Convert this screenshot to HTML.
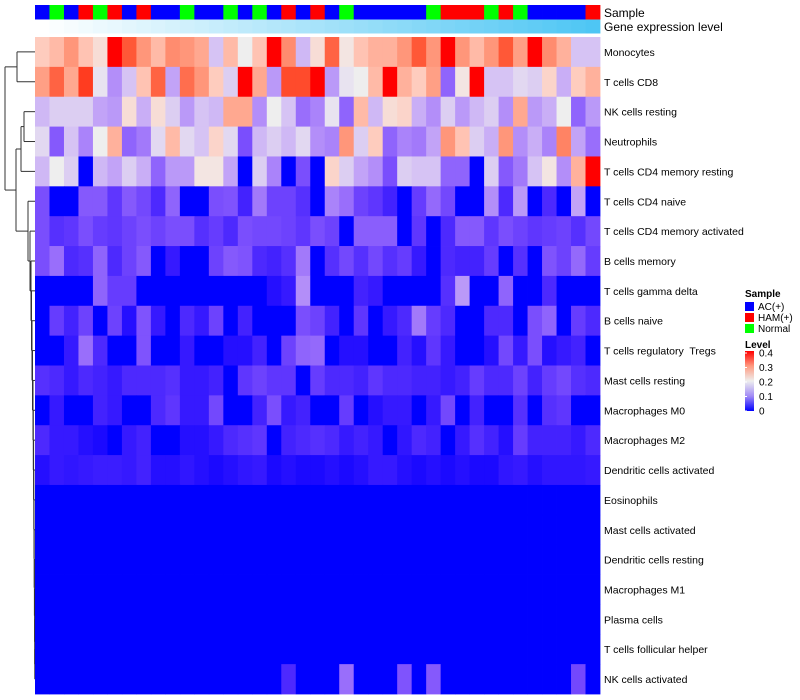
<!DOCTYPE html>
<html><head><meta charset="utf-8"><style>
body{margin:0;background:#fff;}
svg{display:block;font-family:"Liberation Sans",sans-serif;}
#rowlabels text{white-space:pre;}
</style></head><body>
<svg id="chart" width="800" height="700" xmlns="http://www.w3.org/2000/svg">
<g id="dendro" stroke="#333" stroke-width="1" fill="none"></g>
<g id="annot"></g>
<g id="cells"></g>
<g id="rowlabels" font-size="10.5" fill="#000" xml:space="preserve"></g>
<text x="604" y="17" font-size="12">Sample</text>
<text x="604" y="31" font-size="12">Gene expression level</text>
<g id="legend" font-size="10">
<text x="745" y="297" font-weight="bold">Sample</text>
<g><rect x="745" y="302" width="9" height="9" fill="#0000ff"/><text x="758" y="310">AC(+)</text></g>
<g><rect x="745" y="313" width="9" height="9" fill="#ff0000"/><text x="758" y="321">HAM(+)</text></g>
<g><rect x="745" y="324" width="9" height="9" fill="#00ff00"/><text x="758" y="332">Normal</text></g>
<text x="745" y="348" font-weight="bold">Level</text>
<defs><linearGradient id="lg" x1="0" y1="1" x2="0" y2="0">
<stop offset="0" stop-color="#0000ff"/><stop offset="0.25" stop-color="#a38cf6"/><stop offset="0.5" stop-color="#eeeeee"/><stop offset="0.75" stop-color="#ff9a80"/><stop offset="1" stop-color="#ff0000"/></linearGradient></defs>
<rect x="745" y="351" width="9" height="60" fill="url(#lg)"/>
<g id="lticks"></g>
</g>
</svg>
<script>
const rowNames=["Monocytes","T cells CD8","NK cells resting","Neutrophils","T cells CD4 memory resting","T cells CD4 naive","T cells CD4 memory activated","B cells memory","T cells gamma delta","B cells naive","T cells regulatory  Tregs","Mast cells resting","Macrophages M0","Macrophages M2","Dendritic cells activated","Eosinophils","Mast cells activated","Dendritic cells resting","Macrophages M1","Plasma cells","T cells follicular helper","NK cells activated"];
const sampleGroups=["A","N","A","H","N","H","A","H","A","A","N","A","A","N","A","N","A","H","A","H","A","N","A","A","A","A","A","N","H","H","H","N","H","N","A","A","A","A","H"];
const geneLevel=[0,1,2,3,4,5,6,7,8,9,10,11,12,13,14,15,16,17,18,19,20,21,22,23,24,25,26,27,28,29,30,31,32,33,34,35,36,37,38];
const legendTicks=[0,0.1,0.2,0.3,0.4];
const r0=[0.24,0.26,0.3,0.25,0.22,0.4,0.36,0.3,0.26,0.31,0.3,0.28,0.16,0.26,0.2,0.25,0.4,0.31,0.15,0.22,0.35,0.21,0.25,0.27,0.27,0.3,0.36,0.3,0.4,0.3,0.26,0.3,0.36,0.29,0.4,0.31,0.27,0.16,0.16];
const r1=[0.29,0.35,0.28,0.38,0.19,0.11,0.16,0.25,0.35,0.13,0.34,0.3,0.24,0.17,0.4,0.28,0.12,0.37,0.37,0.4,0.12,0.19,0.2,0.26,0.4,0.27,0.24,0.29,0.07,0.21,0.4,0.16,0.16,0.18,0.17,0.23,0.14,0.24,0.27];
const r2=[0.15,0.17,0.17,0.17,0.13,0.12,0.22,0.14,0.22,0.17,0.12,0.16,0.15,0.28,0.28,0.11,0.2,0.16,0.08,0.1,0.19,0.07,0.26,0.15,0.22,0.23,0.14,0.11,0.17,0.12,0.15,0.17,0.11,0.28,0.12,0.14,0.2,0.07,0.12];
const r3=[0.18,0.06,0.16,0.1,0.2,0.27,0.07,0.09,0.18,0.26,0.18,0.16,0.23,0.18,0.05,0.15,0.17,0.15,0.18,0.11,0.1,0.3,0.17,0.24,0.07,0.1,0.09,0.13,0.3,0.25,0.17,0.14,0.3,0.11,0.14,0.1,0.32,0.13,0.08];
const r4=[0.15,0.2,0.17,0,0.15,0.13,0.17,0.14,0.07,0.12,0.12,0.21,0.21,0.13,0,0.17,0.1,0,0.05,0,0.23,0.17,0.13,0.11,0.05,0.17,0.16,0.16,0.07,0.07,0,0.17,0.06,0.09,0.16,0.21,0.11,0.27,0.4];
const r5=[0.05,0,0,0.06,0.06,0.03,0.06,0.045,0.02,0.07,0,0,0.05,0.055,0.015,0.09,0.04,0.04,0.025,0,0.1,0.08,0.04,0.03,0.015,0,0.035,0.075,0.045,0,0,0.11,0.02,0.12,0,0.02,0,0.13,0];
const r6=[0.05,0.025,0.03,0.05,0.035,0.03,0.04,0.05,0.04,0.05,0.05,0.025,0.035,0.02,0.05,0.045,0.045,0.04,0.03,0.05,0.04,0,0.065,0.065,0.065,0,0.03,0,0.02,0.06,0.06,0.03,0.05,0.04,0.03,0.035,0.04,0.025,0.045];
const r7=[0.05,0.08,0.02,0.025,0.07,0.02,0.04,0.06,0,0.01,0,0,0.04,0.06,0.055,0.02,0.015,0.025,0.09,0,0.025,0.045,0.025,0.045,0.025,0.035,0.01,0,0.02,0.015,0.015,0.035,0,0.025,0,0.055,0.04,0.075,0.035];
const r8=[0,0,0,0,0.07,0.035,0.035,0,0,0,0,0,0,0,0,0,0.005,0.01,0.11,0,0,0,0.015,0.01,0,0,0,0,0.025,0.12,0,0,0.07,0,0,0.02,0,0,0];
const r9=[0,0.035,0.015,0.04,0,0.04,0.005,0.055,0.01,0,0.02,0.01,0.04,0,0.015,0,0,0,0.05,0.04,0.015,0,0.03,0,0.01,0.02,0.09,0.035,0.02,0,0,0.02,0.02,0,0.05,0.07,0,0.035,0.02];
const r10=[0,0,0.01,0.08,0.02,0,0,0.055,0,0,0.01,0,0,0.005,0.005,0.015,0,0.04,0.07,0.075,0,0.005,0.005,0,0,0.015,0.005,0.03,0.01,0,0,0.005,0.045,0.01,0.05,0.005,0.01,0.015,0];
const r11=[0.025,0.02,0.01,0.02,0.015,0.01,0.02,0.02,0.02,0.025,0.01,0.01,0.015,0,0.03,0.04,0.03,0.03,0,0.035,0.02,0.02,0.015,0.03,0.02,0.02,0.015,0.015,0.01,0.015,0.035,0.02,0.02,0.04,0.015,0.035,0.045,0.025,0.02];
const r12=[0,0.01,0,0,0.015,0.01,0,0,0.02,0.03,0.01,0.01,0.045,0,0,0.015,0.05,0.01,0.015,0,0,0.035,0,0.005,0.01,0.01,0,0.01,0.045,0,0.015,0,0,0.025,0,0.025,0.03,0,0];
const r13=[0.02,0.01,0.01,0.005,0.003,0,0.01,0.015,0,0,0.005,0.005,0.01,0.02,0.025,0.03,0,0.015,0.02,0.025,0.02,0.01,0.015,0.01,0,0.008,0.02,0.015,0,0.01,0.025,0.015,0.005,0.035,0.015,0.015,0.015,0.01,0.02];
const r14=[0.005,0.01,0.008,0.01,0.012,0.012,0.01,0.015,0.005,0.005,0.008,0.005,0.003,0.005,0.008,0.01,0.003,0.005,0.003,0.003,0.005,0.003,0.005,0.01,0.01,0.005,0.003,0.005,0.003,0.005,0.003,0.003,0.008,0.01,0.005,0.008,0.008,0.008,0.01];
const r15=[0,0,0,0,0,0,0,0,0,0,0,0,0,0,0,0,0,0,0,0,0,0,0,0,0,0,0,0,0,0,0,0,0,0,0,0,0,0,0];
const r16=[0,0,0,0,0,0,0,0,0,0,0,0,0,0,0,0,0,0,0,0,0,0,0,0,0,0,0,0,0,0,0,0,0,0,0,0,0,0,0];
const r17=[0,0,0,0,0,0,0,0,0,0,0,0,0,0,0,0,0,0,0,0,0,0,0,0,0,0,0,0,0,0,0,0,0,0,0,0,0,0,0];
const r18=[0,0,0,0,0,0,0,0,0,0,0,0,0,0,0,0,0,0,0,0,0,0,0,0,0,0,0,0,0,0,0,0,0,0,0,0,0,0,0];
const r19=[0,0,0,0,0,0,0,0,0,0,0,0,0,0,0,0,0,0,0,0,0,0,0,0,0,0,0,0,0,0,0,0,0,0,0,0,0,0,0];
const r20=[0,0,0,0,0,0,0,0,0,0,0,0,0,0,0,0,0,0,0,0,0,0,0,0,0,0,0,0,0,0,0,0,0,0,0,0,0,0,0];
const r21=[0,0,0,0,0,0,0,0,0,0,0,0,0,0,0,0,0,0.02,0,0,0,0.08,0,0,0,0.055,0,0.06,0,0,0,0,0,0,0,0,0,0.045,0];
const values=[r0,r1,r2,r3,r4,r5,r6,r7,r8,r9,r10,r11,r12,r13,r14,r15,r16,r17,r18,r19,r20,r21];

const NS="http://www.w3.org/2000/svg";
const X0=35,X1=600,Y0=37,Y1=694;
const nC=sampleGroups.length,nR=rowNames.length;
const cw=(X1-X0)/nC,rh=(Y1-Y0)/nR;
const xS=i=>X0+i*cw, yS=j=>Y0+j*rh;
function mk(tag,attrs,parent){const e=document.createElementNS(NS,tag);for(const k in attrs)e.setAttribute(k,attrs[k]);parent.appendChild(e);return e;}
function s2l(c){c/=255;return c<=0.04045?c/12.92:Math.pow((c+0.055)/1.055,2.4);}
function l2s(c){c=c<=0.0031308?12.92*c:1.055*Math.pow(c,1/2.4)-0.055;return Math.max(0,Math.min(255,Math.round(c*255)));}
function toLab(r,g,b){r=s2l(r);g=s2l(g);b=s2l(b);let X=(0.4124*r+0.3576*g+0.1805*b)/0.95047,Y=0.2126*r+0.7152*g+0.0722*b,Z=(0.0193*r+0.1192*g+0.9505*b)/1.08883;const f=t=>t>0.008856?Math.cbrt(t):7.787*t+16/116;const fx=f(X),fy=f(Y),fz=f(Z);return[116*fy-16,500*(fx-fy),200*(fy-fz)];}
function fromLab(L,a,b){const fy=(L+16)/116,fx=fy+a/500,fz=fy-b/200;const fi=t=>t*t*t>0.008856?t*t*t:(t-16/116)/7.787;const X=fi(fx)*0.95047,Y=fi(fy),Z=fi(fz)*1.08883;const r=3.2406*X-1.5372*Y-0.4986*Z,g=-0.9689*X+1.8758*Y+0.0415*Z,bb=0.0557*X-0.2040*Y+1.0570*Z;return"rgb("+l2s(r)+","+l2s(g)+","+l2s(bb)+")";}
const cB=toLab(0,0,255),cW=toLab(238,238,238),cR=toLab(255,0,0);
function col(v){v=Math.max(0,Math.min(0.4,v));let a,b,t;if(v<0.2){a=cB;b=cW;t=v/0.2;}else{a=cW;b=cR;t=(v-0.2)/0.2;}return fromLab(a[0]+(b[0]-a[0])*t,a[1]+(b[1]-a[1])*t,a[2]+(b[2]-a[2])*t);}
const groupColor={A:"#0000ff",H:"#ff0000",N:"#00ff00"};
const annot=document.getElementById("annot");
const gmax=Math.max(...geneLevel);
sampleGroups.forEach((g,i)=>{
  const r=mk("rect",{x:xS(i),y:5,width:cw+0.4,height:14.5,fill:groupColor[g]},annot);
  
  
  const t=geneLevel[i]/gmax;
  const c="rgb("+Math.round(255+(78-255)*t)+","+Math.round(255+(198-255)*t)+","+Math.round(255+(244-255)*t)+")";
  const r2=mk("rect",{x:xS(i),y:19.5,width:cw+0.4,height:14,fill:c},annot);
  
  
});
const cells=document.getElementById("cells");
values.forEach((row,j)=>row.forEach((v,i)=>{
  const r=mk("rect",{x:xS(i),y:yS(j),width:cw+0.4,height:rh+0.4,fill:col(v)},cells);
  
  
}));
const rl=document.getElementById("rowlabels");
rowNames.forEach((n,j)=>{
  const t=mk("text",{x:604,y:yS(j)+rh/2+4},rl);t.textContent=n;
  
  
});
const lt=document.getElementById("lticks");
legendTicks.forEach(v=>{
  const y=411-v/0.4*58;
  mk("line",{x1:745,x2:747,y1:y,y2:y,stroke:"#fff"},lt);
  const t=mk("text",{x:759,y:y+3.5},lt);t.textContent=String(v);
  
  
});
const dg=document.getElementById("dendro");
const ly=j=>yS(j)+rh/2;
function seg(x1,y1,x2,y2){mk("line",{x1:x1,y1:y1,x2:x2,y2:y2},dg);}
seg(17,ly(0),35,ly(0));seg(17,ly(1),35,ly(1));seg(17,ly(0),17,ly(1));
seg(24,ly(2),35,ly(2));seg(24,ly(3),35,ly(3));seg(24,ly(2),24,ly(3));
const bY=(ly(2)+ly(3))/2;
seg(21,bY,24,bY);seg(21,ly(4),35,ly(4));seg(21,bY,21,ly(4));
const cY=(bY+ly(4))/2;
const ladX=[28,30,31,31.5,32,32.5,33,33.3,33.6,33.8,34,34.2,34.4,34.6,34.7,34.8,34.9];
let prevY=ly(21),prevX=35;
for(let j=20;j>=5;j--){
  const x=ladX[j-5];
  seg(x,ly(j),35,ly(j));seg(x,prevY,prevX,prevY);seg(x,ly(j),x,prevY);
  prevY=(ly(j)+prevY)/2;prevX=x;
}
const eY=prevY;
seg(16,cY,21,cY);seg(16,eY,28,eY);seg(16,cY,16,eY);
const fY=(cY+eY)/2;
const aY=(ly(0)+ly(1))/2;
seg(5,aY,17,aY);seg(5,fY,16,fY);seg(5,aY,5,fY);
</script>
</body></html>
